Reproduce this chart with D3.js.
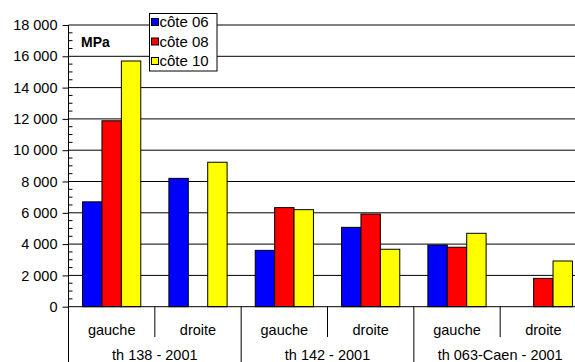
<!DOCTYPE html>
<html><head><meta charset="utf-8">
<script src="https://cdn.jsdelivr.net/npm/d3@7"></script>
<style>body{margin:0;background:#fff}svg{display:block;font-family:"Liberation Sans",Arial,sans-serif}</style>
</head><body>
<svg id="c" width="575" height="362"></svg>
<script>
const groups = ["th 138 - 2001", "th 142 - 2001", "th 063-Caen - 2001"];
const sides = ["gauche", "droite"];
const series = ["côte 06", "côte 08", "côte 10"];
const colors = ["#0000ff", "#ff0000", "#ffff00"];
// values per series, in order g1-gauche, g1-droite, g2-gauche, g2-droite, g3-gauche, g3-droite
const cote06 = [6700, 8200, 3600, 5070, 3940, null];
const cote08 = [11880, null, 6330, 5920, 3800, 1810];
const cote10 = [15700, 9230, 6200, 3670, 4690, 2920];
const yTicks = [0, 2000, 4000, 6000, 8000, 10000, 12000, 14000, 16000, 18000];
const unitLabel = "MPa";

const values = [cote06, cote08, cote10];
const cats = [];
groups.forEach(g => sides.forEach(s => cats.push(g + "|" + s)));

const svg = d3.select("#c");
const x0 = 68.5, x1r = 586.5, yTop = 25, yBot = 306.7;
const x = d3.scaleBand().domain(cats).range([x0, x1r]).paddingInner(0).paddingOuter(0);
const xs = d3.scaleBand().domain(series).range([0, x.bandwidth()]).paddingInner(0).paddingOuter(0.725);
const y = d3.scaleLinear().domain([0, 18000]).range([yBot, yTop]);
const fmt = v => d3.format(",")(v).replace(/,/g, " ");

// gridlines
svg.append("g").selectAll("line").data(yTicks.filter(d => d > 0)).join("line")
  .attr("x1", x0).attr("x2", 575).attr("y1", d => y(d)).attr("y2", d => y(d))
  .attr("stroke", "#000").attr("stroke-width", 1);

// bars
const bars = [];
values.forEach((arr, si) => arr.forEach((v, ci) => { if (v != null) bars.push({s: series[si], c: cats[ci], v, col: colors[si]}); }));
svg.append("g").selectAll("rect").data(bars).join("rect")
  .attr("x", d => x(d.c) + xs(d.s)).attr("width", xs.bandwidth())
  .attr("y", d => y(d.v)).attr("height", d => y(0) - y(d.v))
  .attr("fill", d => d.col).attr("stroke", "#000").attr("stroke-width", 1);

// y axis
const yAxis = d3.axisLeft(y).tickValues(yTicks).tickFormat(fmt).tickSize(6).tickPadding(5);
const ga = svg.append("g").attr("transform", `translate(${x0},0)`).call(yAxis);
ga.attr("font-size", null).attr("font-family", null);
ga.select(".domain").remove();
ga.selectAll("line").attr("stroke", "#000");
ga.selectAll("text").style("font-size", "14.5px").attr("fill", "#000");
// minor ticks
const minor = d3.range(500, 18000, 500).filter(v => v % 2000 !== 0);
svg.append("g").selectAll("line").data(minor).join("line")
  .attr("x1", x0).attr("x2", x0 + 4).attr("y1", d => y(d)).attr("y2", d => y(d))
  .attr("stroke", "#000");
// axis line
svg.append("line").attr("x1", x0).attr("x2", x0).attr("y1", yTop).attr("y2", 362).attr("stroke", "#000");
// zero line
svg.append("line").attr("x1", x0).attr("x2", 575).attr("y1", y(0)).attr("y2", y(0)).attr("stroke", "#000");

// category separators
cats.forEach((c, i) => {
  if (i === 0) return;
  const xx = x(c);
  const outer = i % 2 === 0;
  svg.append("line").attr("x1", xx).attr("x2", xx).attr("y1", y(0)).attr("y2", outer ? 362 : 337).attr("stroke", "#000");
});
// side labels
svg.append("g").selectAll("text").data(cats).join("text")
  .attr("x", d => x(d) + x.bandwidth() / 2).attr("y", 334.5)
  .attr("text-anchor", "middle").style("font-size", "14.5px").text(d => d.split("|")[1]);
// group labels
svg.append("g").selectAll("text").data(groups).join("text")
  .attr("x", g => x(g + "|gauche")).attr("dx", x.bandwidth()).attr("y", 360)
  .attr("text-anchor", "middle").style("font-size", "14.5px").text(g => g);

// unit label
svg.append("text").attr("x", 81).attr("y", 47).style("font-size", "14px").attr("font-weight", "bold").text(unitLabel);

// legend
const lg = svg.append("g");
lg.append("rect").attr("x", 149.5).attr("y", 13.5).attr("width", 67.5).attr("height", 57.5)
  .attr("fill", "#fff").attr("stroke", "#000");
series.forEach((s, i) => {
  const cy = 22 + i * 19.5;
  lg.append("rect").attr("x", 151.5).attr("y", cy - 3.5).attr("width", 7).attr("height", 7)
    .attr("fill", colors[i]).attr("stroke", "#000");
  lg.append("text").attr("x", 159.5).attr("y", cy + 5).style("font-size", "15px").text(s);
});
</script>
</body></html>
